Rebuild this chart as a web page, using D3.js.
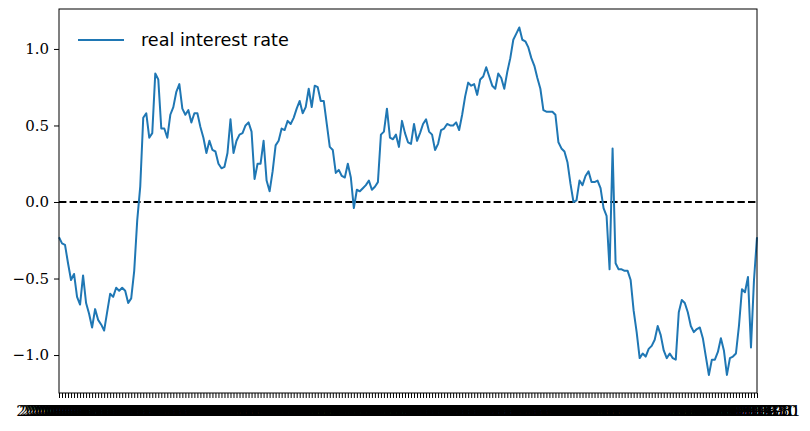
<!DOCTYPE html>
<html><head><meta charset="utf-8">
<script src="https://cdn.jsdelivr.net/npm/d3@7"></script>
<style>html,body{margin:0;padding:0;background:#fff;}</style>
</head><body>
<svg id="chart" width="810" height="431"></svg>
<script>
// --- data ---
const startDate = "2000-01-31";
const nPoints = 233;
const values = [
-0.23,-0.27,-0.28,-0.40,-0.51,-0.47,-0.62,-0.67,-0.48,-0.66,
-0.73,-0.82,-0.70,-0.77,-0.80,-0.84,-0.72,-0.60,-0.62,-0.56,
-0.58,-0.56,-0.58,-0.66,-0.63,-0.45,-0.12,0.10,0.55,0.58,
0.42,0.45,0.84,0.80,0.48,0.48,0.42,0.57,0.62,0.72,
0.77,0.61,0.57,0.60,0.52,0.58,0.58,0.49,0.42,0.32,
0.40,0.34,0.33,0.25,0.22,0.23,0.32,0.54,0.32,0.40,
0.44,0.45,0.50,0.52,0.46,0.15,0.25,0.25,0.40,0.14,
0.07,0.20,0.37,0.40,0.48,0.47,0.53,0.51,0.55,0.61,
0.66,0.58,0.62,0.74,0.62,0.76,0.75,0.66,0.66,0.51,
0.36,0.34,0.19,0.21,0.17,0.16,0.25,0.16,-0.04,0.08,
0.07,0.09,0.11,0.14,0.08,0.10,0.13,0.44,0.46,0.61,
0.42,0.41,0.44,0.36,0.53,0.45,0.39,0.38,0.51,0.40,
0.45,0.51,0.54,0.46,0.44,0.34,0.38,0.47,0.48,0.51,
0.50,0.50,0.52,0.47,0.57,0.69,0.78,0.76,0.77,0.70,
0.80,0.82,0.88,0.82,0.76,0.74,0.84,0.81,0.74,0.85,
0.94,1.06,1.10,1.14,1.06,1.05,1.01,0.94,0.89,0.81,
0.74,0.60,0.59,0.59,0.59,0.57,0.39,0.35,0.33,0.26,
0.12,0.00,0.01,0.14,0.11,0.17,0.20,0.13,0.13,0.14,
0.09,-0.04,-0.09,-0.44,0.35,-0.40,-0.44,-0.44,-0.45,-0.45,
-0.51,-0.71,-0.85,-1.02,-0.99,-1.01,-0.96,-0.94,-0.90,-0.81,
-0.87,-0.97,-1.02,-0.99,-1.02,-1.03,-0.72,-0.64,-0.66,-0.72,
-0.81,-0.85,-0.83,-0.82,-0.89,-1.01,-1.13,-1.03,-1.03,-0.98,
-0.89,-0.97,-1.13,-1.02,-1.01,-0.99,-0.81,-0.57,-0.59,-0.49,
-0.95,-0.51,-0.23];
const yTicks = [-1.0, -0.5, 0.0, 0.5, 1.0];
const seriesName = "real interest rate";
const refLine = 0.0;

// category labels (monthly dates)
const fmt = d3.timeFormat("%Y-%m-%d");
const parse = d3.timeParse("%Y-%m-%d");
const d0 = parse(startDate);
const dates = d3.range(nPoints).map(i => fmt(d3.timeDay.offset(d3.timeMonth.offset(d3.timeMonth.floor(d0), i + 1), -1)));

// --- layout ---
const L = 59, R = 757, T = 9, B = 393;
const svg = d3.select("#chart");
const x = d3.scalePoint().domain(dates).range([L, R]).padding(0);
const y = d3.scaleLinear().domain([-1.248, 1.261]).range([B, T]);

// zero reference line
svg.append("line")
  .attr("x1", L).attr("x2", R).attr("y1", y(refLine)).attr("y2", y(refLine))
  .attr("stroke", "#000").attr("stroke-width", 2).attr("stroke-dasharray", "7.4,3.2");

// series line
const line = d3.line().x((d, i) => x(dates[i])).y(d => y(d));
svg.append("path").datum(values)
  .attr("d", line).attr("fill", "none")
  .attr("stroke", "#1f77b4").attr("stroke-width", 2).attr("stroke-linejoin", "round");

// frame
svg.append("rect").attr("x", L).attr("y", T).attr("width", R - L).attr("height", B - T)
  .attr("fill", "none").attr("stroke", "#000").attr("stroke-width", 1);

// y axis
const yAxis = svg.append("g").attr("transform", `translate(${L},0)`)
  .call(d3.axisLeft(y).tickValues(yTicks).tickSize(5).tickPadding(5)
    .tickFormat(d => d3.format(".1f")(d).replace("-", "\u2212")));
yAxis.select(".domain").remove();
yAxis.selectAll("text").attr("font-family", "DejaVu Serif").attr("font-size", 15).attr("fill", "#000");

// x axis
const xAxis = svg.append("g").attr("transform", `translate(0,${B})`)
  .call(d3.axisBottom(x).tickSize(5).tickPadding(7));
xAxis.select(".domain").remove();
xAxis.selectAll("text").attr("font-family", "DejaVu Serif").attr("font-size", 15).attr("fill", "#000");

// legend
svg.append("line").attr("x1", 78).attr("x2", 124).attr("y1", 40).attr("y2", 40)
  .attr("stroke", "#1f77b4").attr("stroke-width", 2);
svg.append("text").attr("x", 141).attr("y", 46)
  .attr("font-family", "DejaVu Sans").attr("font-size", 17.6).attr("fill", "#000")
  .text(seriesName);
</script>
</body></html>
